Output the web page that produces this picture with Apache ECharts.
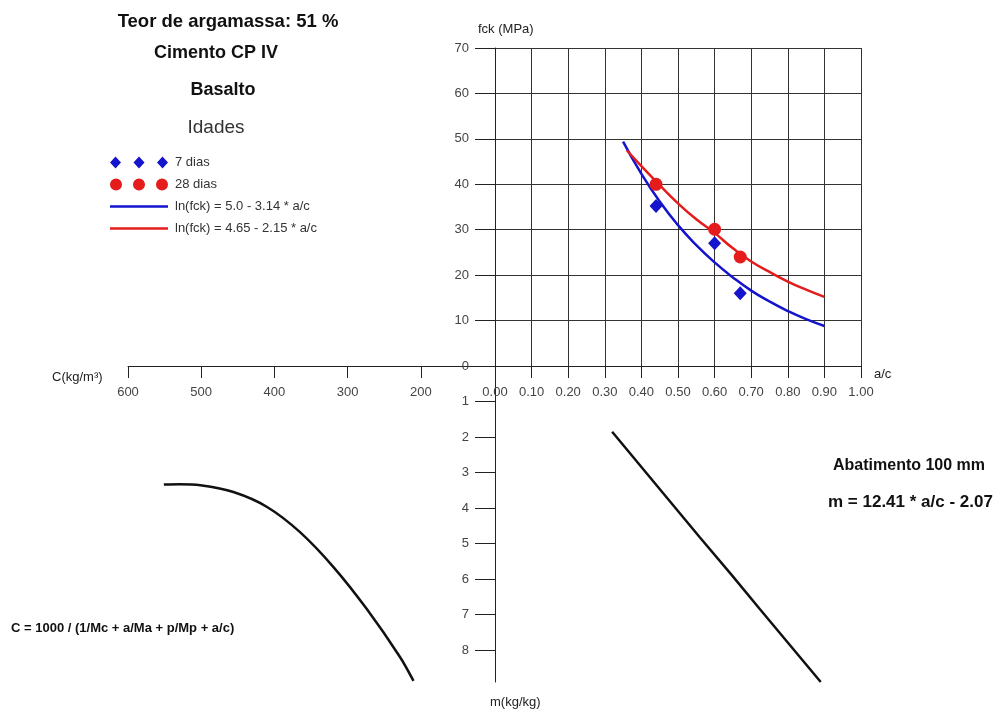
<!DOCTYPE html>
<html>
<head>
<meta charset="utf-8">
<script src="https://cdn.jsdelivr.net/npm/echarts@6/dist/echarts.min.js"></script>
<style>
  html, body { margin: 0; padding: 0; background: #fff; }
  #main { width: 1003px; height: 711px; }
</style>
</head>
<body>
<div id="main"></div>
<script>
// ---- data ----
// fitted curve 7 dias
var acCurve7 = [0.35, 0.40, 0.45, 0.50, 0.55, 0.60, 0.65, 0.70, 0.75, 0.80, 0.85, 0.90];
var fckCurve7 = [49.4, 42.3, 36.2, 31.0, 26.6, 22.8, 19.5, 16.6, 14.2, 12.1, 10.3, 8.8];
// fitted curve 28 dias
var acCurve28 = [0.36, 0.40, 0.45, 0.50, 0.55, 0.60, 0.65, 0.70, 0.75, 0.80, 0.85, 0.90];
var fckCurve28 = [47.5, 44.0, 39.8, 35.8, 32.3, 29.3, 25.9, 23.0, 20.7, 18.6, 16.8, 15.2];
// measured points
var acPoints = [0.44, 0.60, 0.67];
var fck7 = [35.2, 27.0, 16.0];
var fck28 = [40.0, 30.1, 24.0];
// m vs a/c (Abatimento 100 mm)
var acM = [0.32, 0.56, 0.647, 0.724, 0.89];
var mLine = [1.85, 4.83, 5.89, 6.85, 8.9];
// C vs m
var cCons = [551, 530, 501, 456, 410, 365, 319, 274, 228, 210];
var mCons = [3.34, 3.33, 3.36, 3.55, 3.97, 4.68, 5.67, 6.84, 8.21, 8.87];
// tick labels
var mTicks = [1, 2, 3, 4, 5, 6, 7, 8];
var cTicks = [200, 300, 400, 500, 600];

var BLUE = "#1414cc";
var RED = "#e41c1c";
var FONT = "Arial, 'Liberation Sans', sans-serif";

function pairs(xs, ys) {
  return xs.map(function (x, i) { return [x, ys[i]]; });
}

var myChart = echarts.init(document.getElementById("main"));
myChart.setOption({
  animation: false,
  textStyle: { fontFamily: FONT },
  grid: [
    { left: 495, top: 48, width: 366, height: 318 },
    { left: 495, top: 366, width: 366, height: 316 },
    { left: 128, top: 366, width: 366, height: 316 }
  ],
  legend: {
    orient: "vertical",
    left: 105,
    top: 151,
    itemWidth: 58,
    itemHeight: 12,
    itemGap: 9,
    textStyle: { fontSize: 13, color: "#333", fontFamily: FONT, padding: [0, 0, 0, 2] },
    data: [
      { name: "7 dias", icon: "path://M0,6L5.5,0L11,6L5.5,12Z M23.5,6L29,0L34.5,6L29,12Z M47,6L52.5,0L58,6L52.5,12Z" },
      { name: "28 dias", icon: "path://M0,6a6,6 0 1,0 12,0a6,6 0 1,0 -12,0Z M23,6a6,6 0 1,0 12,0a6,6 0 1,0 -12,0Z M46,6a6,6 0 1,0 12,0a6,6 0 1,0 -12,0Z" },
      { name: "ln(fck) = 5.0 - 3.14 * a/c", icon: "path://M0,0H58V2.5H0Z" },
      { name: "ln(fck) = 4.65 - 2.15 * a/c", icon: "path://M0,0H58V2.5H0Z" }
    ]
  },
  xAxis: [
    {
      gridIndex: 0,
      type: "value",
      min: 0,
      max: 1,
      interval: 0.1,
      position: "bottom",
      axisLine: { show: true, lineStyle: { color: "#222" } },
      axisTick: { show: true, length: 12, lineStyle: { color: "#222" } },
      splitLine: { show: true, lineStyle: { color: "#333" } },
      axisLabel: {
        margin: 20,
        fontSize: 13,
        color: "#444",
        formatter: function (v) { return v.toFixed(2); }
      }
    },
    { gridIndex: 1, type: "value", min: 0, max: 1, show: false },
    {
      gridIndex: 2,
      type: "value",
      min: 100,
      max: 600,
      interval: 100,
      inverse: true,
      position: "top",
      axisLine: { show: true, lineStyle: { color: "#222" } },
      axisTick: { show: true, inside: true, length: 12, customValues: cTicks, lineStyle: { color: "#222" } },
      splitLine: { show: false },
      axisLabel: { inside: true, margin: 20, fontSize: 13, color: "#444", customValues: cTicks }
    }
  ],
  yAxis: [
    {
      gridIndex: 0,
      type: "value",
      min: 0,
      max: 70,
      interval: 10,
      axisLine: { show: true, lineStyle: { color: "#222" } },
      axisTick: { show: true, length: 20, lineStyle: { color: "#222" } },
      splitLine: { show: true, lineStyle: { color: "#333" } },
      axisLabel: { margin: 26, fontSize: 13, color: "#444" }
    },
    {
      gridIndex: 1,
      type: "value",
      min: 0,
      max: 8.9,
      inverse: true,
      axisLine: { show: true, lineStyle: { color: "#222" } },
      axisTick: { show: true, length: 20, customValues: mTicks, lineStyle: { color: "#222" } },
      splitLine: { show: false },
      axisLabel: { margin: 26, fontSize: 13, color: "#444", customValues: mTicks }
    },
    { gridIndex: 2, type: "value", min: 0, max: 8.9, inverse: true, show: false }
  ],
  graphic: [
    { type: "text", x: 228, y: 22, style: { text: "Teor de argamassa: 51 %", font: "bold 18.5px " + FONT, fill: "#111", align: "center", verticalAlign: "middle" } },
    { type: "text", x: 216, y: 53, style: { text: "Cimento CP IV", font: "bold 18px " + FONT, fill: "#111", align: "center", verticalAlign: "middle" } },
    { type: "text", x: 223, y: 90, style: { text: "Basalto", font: "bold 18px " + FONT, fill: "#111", align: "center", verticalAlign: "middle" } },
    { type: "text", x: 216, y: 128, style: { text: "Idades", font: "19px " + FONT, fill: "#333", align: "center", verticalAlign: "middle" } },
    { type: "text", x: 478, y: 29, style: { text: "fck (MPa)", font: "13px " + FONT, fill: "#222", verticalAlign: "middle" } },
    { type: "text", x: 874, y: 374, style: { text: "a/c", font: "13px " + FONT, fill: "#222", verticalAlign: "middle" } },
    { type: "text", x: 52, y: 377, style: { text: "C(kg/m\u00b3)", font: "13px " + FONT, fill: "#222", verticalAlign: "middle" } },
    { type: "text", x: 490, y: 702, style: { text: "m(kg/kg)", font: "13px " + FONT, fill: "#222", verticalAlign: "middle" } },
    { type: "text", x: 833, y: 466, style: { text: "Abatimento 100 mm", font: "bold 16px " + FONT, fill: "#111", verticalAlign: "middle" } },
    { type: "text", x: 828, y: 502, style: { text: "m = 12.41 * a/c - 2.07", font: "bold 17px " + FONT, fill: "#111", verticalAlign: "middle" } },
    { type: "text", x: 11, y: 628, style: { text: "C = 1000 / (1/Mc + a/Ma + p/Mp + a/c)", font: "bold 13px " + FONT, fill: "#111", verticalAlign: "middle" } }
  ],
  series: [
    {
      name: "ln(fck) = 5.0 - 3.14 * a/c",
      type: "line",
      xAxisIndex: 0,
      yAxisIndex: 0,
      color: BLUE,
      smooth: true,
      showSymbol: false,
      lineStyle: { width: 2.5, color: BLUE },
      data: pairs(acCurve7, fckCurve7)
    },
    {
      name: "ln(fck) = 4.65 - 2.15 * a/c",
      type: "line",
      xAxisIndex: 0,
      yAxisIndex: 0,
      color: RED,
      smooth: true,
      showSymbol: false,
      lineStyle: { width: 2.5, color: RED },
      data: pairs(acCurve28, fckCurve28)
    },
    {
      name: "7 dias",
      type: "scatter",
      xAxisIndex: 0,
      yAxisIndex: 0,
      symbol: "diamond",
      symbolSize: [13, 14],
      color: BLUE,
      itemStyle: { opacity: 1 },
      z: 4,
      data: pairs(acPoints, fck7)
    },
    {
      name: "28 dias",
      type: "scatter",
      xAxisIndex: 0,
      yAxisIndex: 0,
      symbol: "circle",
      symbolSize: 13,
      color: RED,
      itemStyle: { opacity: 1 },
      z: 4,
      data: pairs(acPoints, fck28)
    },
    {
      name: "m",
      type: "line",
      xAxisIndex: 1,
      yAxisIndex: 1,
      showSymbol: false,
      lineStyle: { width: 2.5, color: "#111" },
      data: pairs(acM, mLine)
    },
    {
      name: "C",
      type: "line",
      xAxisIndex: 2,
      yAxisIndex: 2,
      smooth: 0.3,
      showSymbol: false,
      lineStyle: { width: 2.5, color: "#111" },
      data: pairs(cCons, mCons)
    }
  ]
});
</script>
</body>
</html>
